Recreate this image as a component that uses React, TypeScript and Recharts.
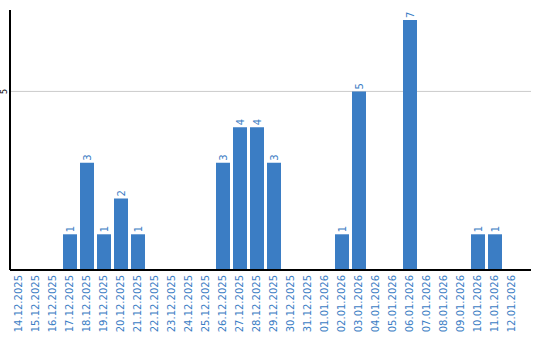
import { BarChart, Bar, XAxis, YAxis, CartesianGrid, LabelList } from 'recharts';

const dates = [
  '14.12.2025', '15.12.2025', '16.12.2025', '17.12.2025', '18.12.2025', '19.12.2025',
  '20.12.2025', '21.12.2025', '22.12.2025', '23.12.2025', '24.12.2025', '25.12.2025',
  '26.12.2025', '27.12.2025', '28.12.2025', '29.12.2025', '30.12.2025', '31.12.2025',
  '01.01.2026', '02.01.2026', '03.01.2026', '04.01.2026', '05.01.2026', '06.01.2026',
  '07.01.2026', '08.01.2026', '09.01.2026', '10.01.2026', '11.01.2026', '12.01.2026',
];
const counts = [0, 0, 0, 1, 3, 1, 2, 1, 0, 0, 0, 0, 3, 4, 4, 3, 0, 0, 0, 1, 5, 0, 0, 7, 0, 0, 0, 1, 1, 0];
const yTicks = [5];

const data = dates.map((d, i) => ({ date: d, count: counts[i] }));

const BLUE = '#3b7dc4';
const FONT = '"DejaVu Sans", sans-serif';

const DateTick = ({ x, payload }: any) => (
  <text
    transform={`translate(${x + 3.5}, 275) rotate(-90)`}
    textAnchor="end"
    fill={BLUE}
    fontSize={10}
    fontFamily={FONT}
  >
    {payload.value}
  </text>
);

const ValueTick = ({ y, payload }: any) => (
  <text
    transform={`translate(7, ${y}) rotate(-90)`}
    textAnchor="middle"
    fill="#000"
    fontSize={8}
    fontFamily={FONT}
  >
    {payload.value}
  </text>
);

const BarValue = ({ x, y, width, value }: any) => {
  if (!value) return null;
  return (
    <text
      transform={`translate(${x + width / 2 + 4}, ${y - 2}) rotate(-90)`}
      textAnchor="start"
      fill={BLUE}
      fontSize={10}
      fontFamily={FONT}
    >
      {value}
    </text>
  );
};

export default function App() {
  return (
    <div style={{ position: 'absolute', left: 0, top: 0, background: '#fff' }}>
      <BarChart
        width={540}
        height={340}
        data={data}
        margin={{ top: 10, right: 9, left: 0, bottom: 0 }}
      >
        <CartesianGrid vertical={false} stroke="#cccccc" horizontalValues={yTicks} />
        <XAxis
          dataKey="date"
          interval={0}
          height={70}
          tickLine={false}
          axisLine={{ stroke: '#000', strokeWidth: 2 }}
          padding={{ left: 0, right: 11 }}
          tick={<DateTick />}
        />
        <YAxis
          width={10}
          domain={[0, 7.28]}
          ticks={yTicks}
          tickLine={false}
          axisLine={{ stroke: '#000', strokeWidth: 2 }}
          tick={<ValueTick />}
        />
        <Bar dataKey="count" fill={BLUE} barSize={14} isAnimationActive={false}>
          <LabelList dataKey="count" content={<BarValue />} />
        </Bar>
      </BarChart>
    </div>
  );
}
